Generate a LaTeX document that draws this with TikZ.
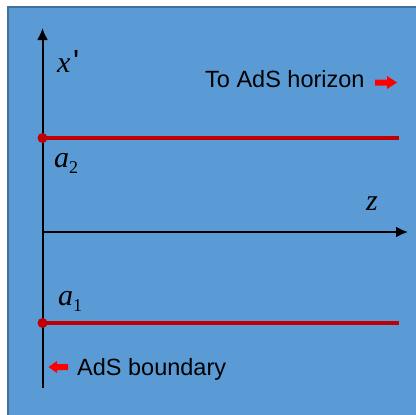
\documentclass[tikz,border=0pt]{standalone}
\usepackage{fontspec}
\newfontfamily\sansfont{Liberation Sans}
\newfontfamily\seriffont{Liberation Serif}
\definecolor{boxblue}{RGB}{91,155,213}
\definecolor{boxedge}{RGB}{65,113,156}
\definecolor{linered}{RGB}{192,0,0}
\definecolor{arrowred}{RGB}{255,0,0}
\usetikzlibrary{arrows.meta}
\tikzset{
  axis/.style={line width=2pt,-{Latex[length=12pt,width=11pt]}},
  brane/.style={line width=4pt,linered},
  branedot/.style={circle,fill=linered,inner sep=0pt,minimum size=10pt},
  sanslabel/.style={inner sep=0pt,font=\sansfont\fontsize{23.5}{28}\selectfont},
  mathlabel/.style={inner sep=0pt,font=\seriffont\itshape\fontsize{30}{36}\selectfont},
  blockarrow/.style={fill=arrowred,draw=none}
}
\begin{document}
\begin{tikzpicture}[x=1pt,y=-1pt]
\useasboundingbox (0,0) rectangle (416,415);
\fill[white] (0,0) rectangle (416,415);
\filldraw[fill=boxblue,draw=boxedge,line width=2pt] (8,7) rectangle (430,430);
% axes
\coordinate (O) at (42.5,232);
\coordinate (ybot) at (42.5,388);
\coordinate (ytop) at (42.5,28);
\coordinate (zend) at (408,232);
\draw[line width=2pt] (O) -- (ybot);
\draw[axis] (O) -- (ytop);
\draw[axis] (O) -- (zend);
% branes
\node[branedot] (a2dot) at (42.5,138) {};
\node[branedot] (a1dot) at (42.5,323) {};
\coordinate (a2end) at (399,138);
\coordinate (a1end) at (399,323);
\draw[brane] (a2dot.center) -- (a2end);
\draw[brane] (a1dot.center) -- (a1end);
% labels
\node[mathlabel,anchor=base west] (xlab) at (57,73) {x\hspace{2.5pt}\raisebox{0pt}{\sansfont\upshape\fontsize{32}{32}\selectfont '}};
\node[mathlabel,anchor=base west] (zlab) at (366,210) {z};
\node[mathlabel,anchor=base west] (a2lab) at (54,167) {a\raisebox{-6pt}{\upshape\fontsize{18}{20}\selectfont 2}};
\node[mathlabel,anchor=base west] (a1lab) at (58,305) {a\raisebox{-6pt}{\upshape\fontsize{18}{20}\selectfont 1}};
\node[sanslabel,anchor=base west] (horizon) at (205,88) {To AdS horizon};
\node[sanslabel,anchor=base west] (boundary) at (77,375) {AdS boundary};
% block arrows
\fill[blockarrow] (375,79.5) -- (387,79.5) -- (387,76) -- (397,82.5) -- (387,89) -- (387,85.5) -- (375,85.5) -- cycle;
\fill[blockarrow] (68,364) -- (57,364) -- (57,361) -- (48.5,367) -- (57,373) -- (57,370) -- (68,370) -- cycle;
\end{tikzpicture}
\end{document}
